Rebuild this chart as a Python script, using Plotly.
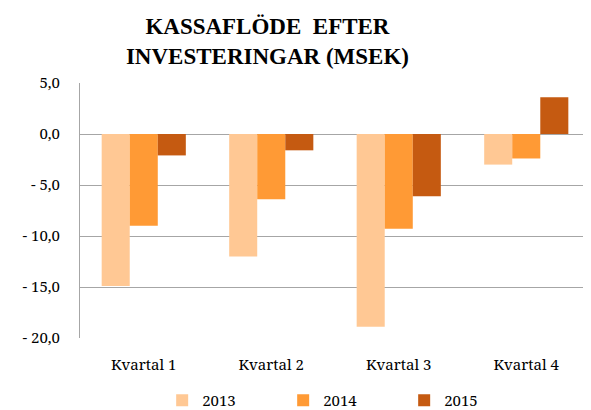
import plotly.graph_objects as go

kvartal = ["Kvartal 1", "Kvartal 2", "Kvartal 3", "Kvartal 4"]
v2013 = [-14.9, -12.0, -18.9, -3.0]
v2014 = [-9.0, -6.4, -9.3, -2.4]
v2015 = [-2.1, -1.6, -6.1, 3.6]

y_tickvals = [-20, -15, -10, -5, 0, 5]
y_ticktext = ["- 20,0", "- 15,0", "- 10,0", "- 5,0", "0,0", "5,0"]

serif = "Noto Serif"
title_font = "Liberation Serif"

fig = go.Figure()
for name, vals, color in [("2013", v2013, "#FFC894"),
                          ("2014", v2014, "#FF9A35"),
                          ("2015", v2015, "#C55A11")]:
    fig.add_trace(go.Bar(x=kvartal, y=vals, name=name,
                         marker={"color": color, "line": {"width": 0}}))

# page body has an 8px margin, so the figure is shrunk to fit the window
fig.update_layout(
    width=583, height=402,
    paper_bgcolor="white", plot_bgcolor="white",
    barmode="group", bargap=0.34, bargroupgap=0,
    margin={"l": 72, "r": 1, "t": 75, "b": 72, "autoexpand": False},
    title={"text": "<b>KASSAFLÖDE  EFTER<br>INVESTERINGAR (MSEK)</b>",
           "font": {"family": title_font, "size": 23, "color": "black"},
           "x": 0.445, "xanchor": "center", "xref": "container",
           "y": 0.935, "yanchor": "top"},
    font={"family": serif, "size": 15, "color": "black"},
    xaxis={"showgrid": False, "showline": False, "ticks": "",
           "tickfont": {"family": serif, "size": 15},
           "ticklabelstandoff": 16},
    yaxis={"range": [-20, 5], "tickvals": y_tickvals, "ticktext": y_ticktext,
           "showgrid": True, "gridcolor": "#A6A6A6", "gridwidth": 1,
           "showline": True, "linecolor": "#A6A6A6", "linewidth": 1,
           "zeroline": True, "zerolinecolor": "#A6A6A6", "zerolinewidth": 1,
           "tickfont": {"family": serif, "size": 15},
           "ticklabelstandoff": 16},
    legend={"orientation": "h", "x": 0.517, "xanchor": "center",
            "y": -0.18, "yanchor": "top", "entrywidth": 76,
            "font": {"family": serif, "size": 15}},
    showlegend=True,
)

fig.write_html("out.html")
